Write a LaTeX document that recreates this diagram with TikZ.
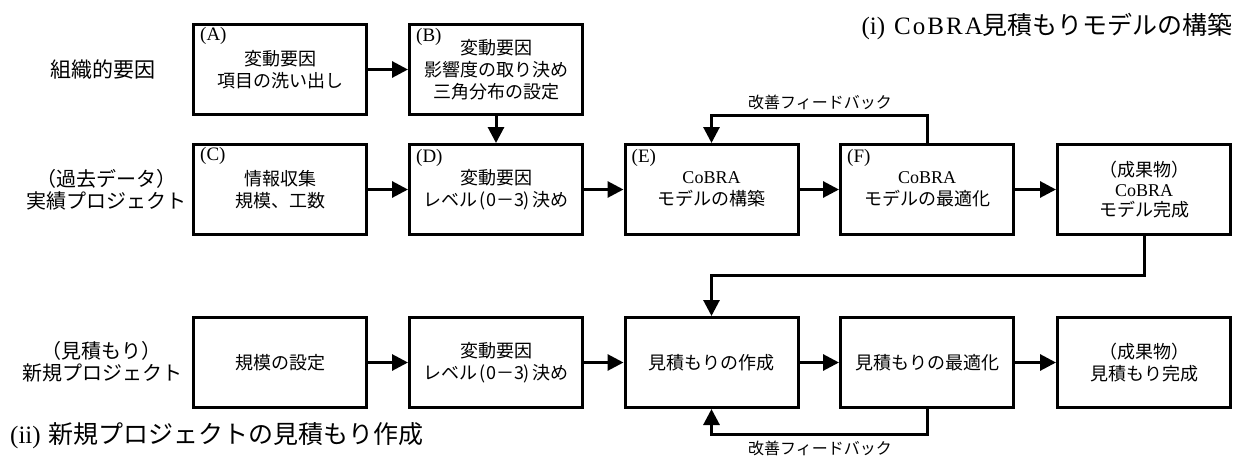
\documentclass[tikz,border=0pt]{standalone}
\usepackage{fontspec}
\setmainfont{Liberation Serif}
\newfontfamily\jp{Noto Sans CJK JP}
\usetikzlibrary{arrows.meta,calc}
\tikzset{
  box/.style={draw, line width=3pt, minimum width=173pt, minimum height=90pt,
    inner sep=0pt, align=center, fill=white, font=\jp\fontsize{18}{22}\selectfont},
  tag/.style={anchor=west, inner sep=0pt, font=\fontsize{19}{19}\selectfont},
  arr/.style={line width=3pt, -{Triangle[length=16pt,width=16pt]}},
  side/.style={align=center, inner sep=0pt, font=\jp\fontsize{20}{22}\selectfont},
  fb/.style={inner sep=0pt, font=\jp\fontsize{16}{16}\selectfont},
  ttl/.style={inner sep=0pt, font=\fontsize{25}{25}\selectfont},
}
\newcommand\cbr{{\rmfamily CoBRA}}
\begin{document}
\begin{tikzpicture}[x=1pt,y=-1pt]
\useasboundingbox (0,0) rectangle (1253,466);
% row 1
\node[box] (A) at (280,69.5) {変動要因\\項目の洗い出し};
\node[box] (B) at (496,69.5) {変動要因\\影響度の取り決め\\三角分布の設定};
% row 2
\node[box] (C) at (280,189.5) {情報収集\\規模、工数};
\node[box] (D) at (496,189.5) {変動要因\\レベル\hspace{2pt}(0－3)\hspace{2pt}決め};
\node[box] (E) at (711.5,189.5) {\cbr\\モデルの構築};
\node[box] (F) at (927,189.5) {\cbr\\モデルの最適化};
\node[box, font=\jp\fontsize{18}{20}\selectfont] (G) at (1144,189.5) {（成果物）\\\cbr\\モデル完成};
% row 3
\node[box] (P) at (280,362.5) {規模の設定};
\node[box] (Q) at (496,362.5) {変動要因\\レベル\hspace{2pt}(0－3)\hspace{2pt}決め};
\node[box] (R) at (711.5,362.5) {見積もりの作成};
\node[box] (S) at (927,362.5) {見積もりの最適化};
\node[box] (T) at (1144,362.5) {（成果物）\\見積もり完成};
% tags
\node[tag] (tA) at ([shift={(8,13)}]A.north west) {(A)};
\node[tag] (tB) at ([shift={(8,14)}]B.north west) {(B)};
\node[tag] (tC) at ([shift={(8,13)}]C.north west) {(C)};
\node[tag] (tD) at ([shift={(8,15)}]D.north west) {(D)};
\node[tag] (tE) at ([shift={(8,15)}]E.north west) {(E)};
\node[tag] (tF) at ([shift={(8,15)}]F.north west) {(F)};
% side labels
\node[side, font=\jp\fontsize{21}{22}\selectfont] (L1) at (103,70) {組織的要因};
\node[side] (L2) at (106,190) {（過去データ）\\実績プロジェクト};
\node[side] (L3) at (102,362) {（見積もり）\\新規プロジェクト};
% titles
\node[ttl, anchor=east] (T1) at (1233,27) {(i)\hspace{9pt}C\kern2pt o\kern2pt B\kern2pt R\kern2pt A{\jp 見積もりモデルの構築}};
\node[ttl, anchor=west] (T2) at (10,436) {(ii)\hspace{8pt}{\jp 新規プロジェクトの見積もり作成}};
% arrows
\draw[arr] (A) -- (B);
\draw[arr] (B) -- (D);
\draw[arr] (C) -- (D);
\draw[arr] (D) -- (E);
\draw[arr] (E) -- (F);
\draw[arr] (F) -- (G);
\draw[arr] (P) -- (Q);
\draw[arr] (Q) -- (R);
\draw[arr] (R) -- (S);
\draw[arr] (S) -- (T);
\coordinate (jA) at (0,115);
\coordinate (jB) at (0,275);
\coordinate (jC) at (0,434);
\draw[arr] (F.north) -- (F.north |- jA) -| (E.north);
\draw[arr] (G.south) -- (G.south |- jB) -| (R.north);
\draw[arr] (S.south) -- (S.south |- jC) -| (R.south);
\node[fb] (fb1) at (820,102) {改善フィードバック};
\node[fb] (fb2) at (820,448) {改善フィードバック};
\end{tikzpicture}
\end{document}
